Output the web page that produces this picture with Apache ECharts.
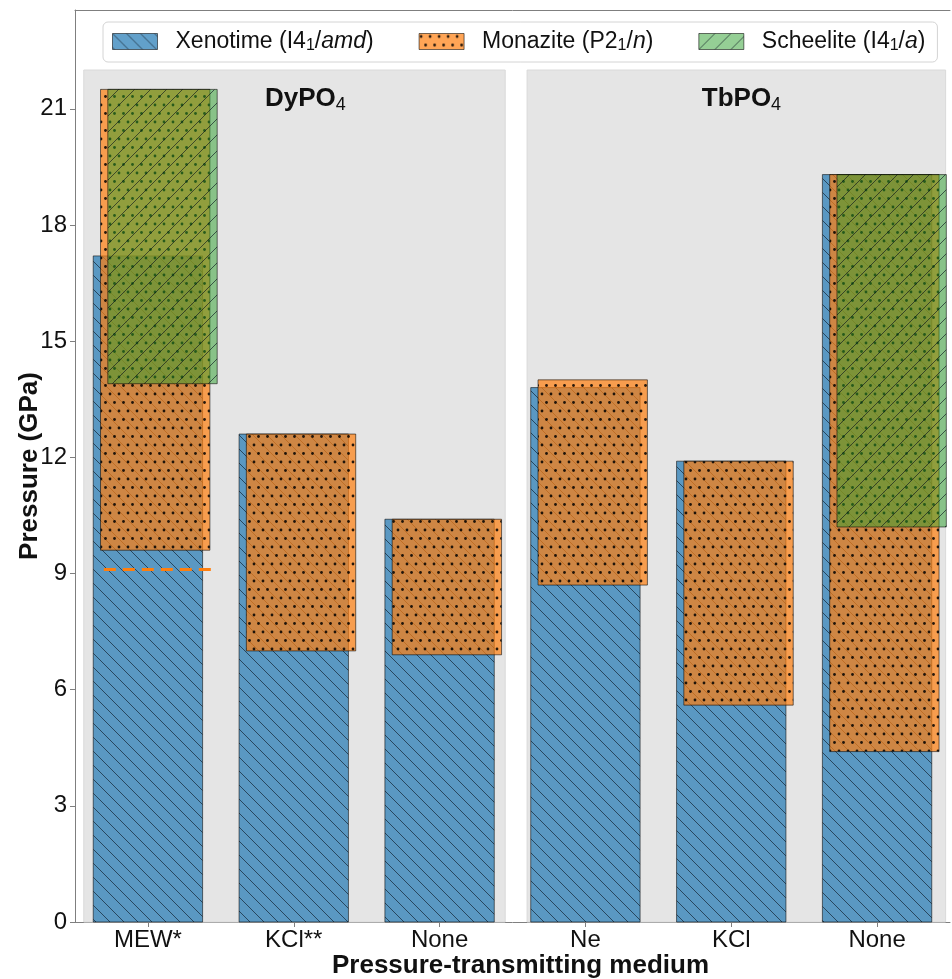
<!DOCTYPE html>
<html>
<head>
<meta charset="utf-8">
<script src="https://cdn.jsdelivr.net/npm/echarts@6/dist/echarts.min.js"></script>
<style>
  html, body { margin: 0; padding: 0; background: #fff; }
  #chart { width: 952px; height: 979px; }
</style>
</head>
<body>
<div id="chart"></div>
<script>
// ---- data ----
const categories = ['MEW*', 'KCl**', 'None', 'Ne', 'KCl', 'None'];
const xenotimeLow = [0, 0, 0, 0, 0, 0];
const xenotimeHigh = [17.2, 12.6, 10.4, 13.8, 11.9, 19.3];
const monaziteLow = [9.6, 7.0, 6.9, 8.7, 5.6, 4.4];
const monaziteHigh = [21.5, 12.6, 10.4, 14.0, 11.9, 19.3];
const scheeliteLow = [13.9, null, null, null, null, 10.2];
const scheeliteHigh = [21.5, null, null, null, null, 19.3];
const onsetCategory = [0];
const onsetPressure = [9.1];
const yTicks = [0, 3, 6, 9, 12, 15, 18, 21];
const compounds = ['DyPO', 'TbPO'];

// ---- layout & style ----
const FONT = '"Liberation Sans", Arial, Helvetica, sans-serif';
const TEXT = '#111';
const SPINE = '#7f7f7f';
const EDGE = 'rgba(0,0,0,0.55)';
const BAR_W = 0.75;                 // bar width as a fraction of a category band
const panelSpans = [[-0.44, 2.45], [2.6, 5.47]];
const panelTop = 22;
const panelTitlePos = [[1.08, 21.25], [4.07, 21.25]];

// Tiled hatch fills: translucent face colour plus a hatch drawn on top
function makeFill(rgba, kind, period) {
  let w = period || 14, h = period || 14;
  if (kind === 'dots') { w = 9; h = 17; }
  const c = document.createElement('canvas');
  c.width = w; c.height = h;
  const g = c.getContext('2d');
  g.fillStyle = rgba;
  g.fillRect(0, 0, w, h);
  if (kind === 'back' || kind === 'fwd') {
    g.strokeStyle = 'rgba(10,20,30,0.62)';
    g.lineWidth = 1;
    for (let k = -w; k <= w; k += w) {
      g.beginPath();
      if (kind === 'back') { g.moveTo(k, 0); g.lineTo(k + w, h); }
      else { g.moveTo(k, h); g.lineTo(k + w, 0); }
      g.stroke();
    }
  } else {
    g.fillStyle = 'rgba(0,0,0,0.85)';
    [[2, 3], [6.5, 11.5]].forEach(([x, y]) => {
      g.beginPath(); g.arc(x, y, 1.4, 0, Math.PI * 2); g.fill();
    });
  }
  return { image: c, repeat: 'repeat' };
}

const fills = {
  xenotime: makeFill('rgba(31,119,180,0.7)', 'back', 14),
  monazite: makeFill('rgba(255,127,14,0.7)', 'dots'),
  scheelite: makeFill('rgba(44,160,44,0.5)', 'fwd', 16)
};

function rangeBars(name, lows, highs, offset, fill, z) {
  const data = [];
  highs.forEach((hi, i) => { if (hi != null) data.push([i, lows[i], hi]); });
  return {
    type: 'custom',
    name: name,
    data: data,
    z: z,
    encode: { x: 0, y: [1, 2] },
    itemStyle: { color: fill, borderColor: EDGE, borderWidth: 1 },
    silent: true,
    renderItem: function (params, api) {
      const band = api.size([1, 0])[0];
      const bottom = api.coord([api.value(0), api.value(1)]);
      const top = api.coord([api.value(0), api.value(2)]);
      const w = band * BAR_W;
      const x = bottom[0] - w / 2 + offset * band;
      return {
        type: 'rect',
        shape: { x: x, y: top[1], width: w, height: bottom[1] - top[1] },
        style: { fill: fill, stroke: EDGE, lineWidth: 1 }
      };
    }
  };
}

const legendRich = {
  n: { fontSize: 23, fontFamily: FONT, color: TEXT, lineHeight: 25 },
  i: { fontSize: 23, fontFamily: FONT, color: TEXT, fontStyle: 'italic', lineHeight: 25 },
  s: { fontSize: 16, fontFamily: FONT, color: TEXT, lineHeight: 13, verticalAlign: 'bottom' }
};
const legendText = {
  'Xenotime': '{n|Xenotime (I4}{s|1}{n|/}{i|amd}{n|)}',
  'Monazite': '{n|Monazite (P2}{s|1}{n|/}{i|n}{n|)}',
  'Scheelite': '{n|Scheelite (I4}{s|1}{n|/}{i|a}{n|)}'
};

const chart = echarts.init(document.getElementById('chart'), null, { renderer: 'canvas' });

chart.setOption({
  animation: false,
  backgroundColor: '#fff',
  textStyle: { fontFamily: FONT },
  grid: { left: 75, right: 2, top: 10, bottom: 57, outerBoundsMode: 'none', containLabel: false },
  legend: {
    data: ['Xenotime', 'Monazite', 'Scheelite'],
    selectedMode: false,
    left: 103, top: 22,
    icon: 'rect',
    itemWidth: 45, itemHeight: 16,
    itemGap: 45,
    padding: [8, 12, 8, 9],
    backgroundColor: '#fff',
    borderColor: '#d4d4d4', borderWidth: 1, borderRadius: 5,
    itemStyle: { borderColor: EDGE, borderWidth: 1 },
    textStyle: { fontSize: 23, color: TEXT, fontFamily: FONT, padding: [0, 0, 0, 13], rich: legendRich },
    formatter: name => legendText[name]
  },
  xAxis: [{
    type: 'category',
    data: categories,
    boundaryGap: true,
    axisLine: { show: true, lineStyle: { color: SPINE, width: 1 } },
    axisTick: { show: true, alignWithLabel: true, length: 5, lineStyle: { color: SPINE } },
    axisLabel: { fontSize: 24, color: TEXT, margin: 6, fontFamily: FONT },
    splitLine: { show: false },
    name: 'Pressure-transmitting medium',
    nameLocation: 'middle',
    nameGap: 31,
    nameMoveOverlap: false,
    nameTextStyle: { fontSize: 26, fontWeight: 'bold', color: TEXT, fontFamily: FONT, padding: [0, 0, 0, 16] }
  }, {
    type: 'category',
    data: categories,
    position: 'top',
    axisLine: { show: true, lineStyle: { color: SPINE, width: 1 } },
    axisTick: { show: false },
    axisLabel: { show: false },
    splitLine: { show: false }
  }],
  yAxis: {
    type: 'value',
    min: 0, max: 23.55, interval: 3,
    axisLine: { show: true, lineStyle: { color: SPINE, width: 1 } },
    axisTick: { show: true, length: 5, lineStyle: { color: SPINE }, customValues: yTicks },
    axisLabel: { fontSize: 24, color: TEXT, margin: 8, fontFamily: FONT, customValues: yTicks },
    splitLine: { show: false },
    name: 'Pressure (GPa)',
    nameLocation: 'middle',
    nameGap: 32,
    nameMoveOverlap: false,
    nameTextStyle: { fontSize: 26, fontWeight: 'bold', color: TEXT, fontFamily: FONT }
  },
  series: [
    {
      // grey background panel and compound title for each group
      type: 'custom',
      name: 'panels',
      silent: true,
      z: 1,
      data: compounds.map((c, i) => [i, 0]),
      encode: { x: 0, y: 1 },
      renderItem: function (params, api) {
        const i = params.dataIndex;
        const band = api.size([1, 0])[0];
        const origin = api.coord([0, 0]);
        const topPt = api.coord([0, panelTop]);
        const x0 = origin[0] + panelSpans[i][0] * band;
        const x1 = origin[0] + panelSpans[i][1] * band;
        const tp = api.coord([0, panelTitlePos[i][1]]);
        return {
          type: 'group',
          children: [{
            type: 'rect',
            shape: { x: x0, y: topPt[1], width: x1 - x0, height: origin[1] - topPt[1] },
            style: { fill: '#e5e5e5', stroke: '#dadada', lineWidth: 1 }
          }, {
            type: 'text',
            x: origin[0] + panelTitlePos[i][0] * band,
            y: tp[1],
            style: {
              text: '{b|' + compounds[i] + '}{s|4}',
              align: 'center',
              verticalAlign: 'middle',
              rich: {
                b: { fontSize: 26, fontWeight: 'bold', fontFamily: FONT, fill: TEXT, lineHeight: 30 },
                s: { fontSize: 18, fontFamily: FONT, fill: TEXT, lineHeight: 16, verticalAlign: 'bottom' }
              }
            }
          }]
        };
      }
    },
    rangeBars('Xenotime', xenotimeLow, xenotimeHigh, 0, fills.xenotime, 2),
    rangeBars('Monazite', monaziteLow, monaziteHigh, 0.05, fills.monazite, 3),
    rangeBars('Scheelite', scheeliteLow, scheeliteHigh, 0.1, fills.scheelite, 4),
    {
      // dashed marker inside the MEW* bar
      type: 'custom',
      name: 'onset',
      silent: true,
      z: 5,
      data: onsetCategory.map((c, i) => [c, onsetPressure[i]]),
      encode: { x: 0, y: 1 },
      renderItem: function (params, api) {
        const band = api.size([1, 0])[0];
        const p = api.coord([api.value(0), api.value(1)]);
        const cx = p[0] + 0.065 * band;
        const hw = band * 0.735 / 2;
        return {
          type: 'line',
          shape: { x1: cx - hw, y1: p[1], x2: cx + hw, y2: p[1] },
          style: { stroke: '#ff7f0e', lineWidth: 3, lineDash: [12, 7] }
        };
      }
    }
  ]
});
</script>
</body>
</html>
